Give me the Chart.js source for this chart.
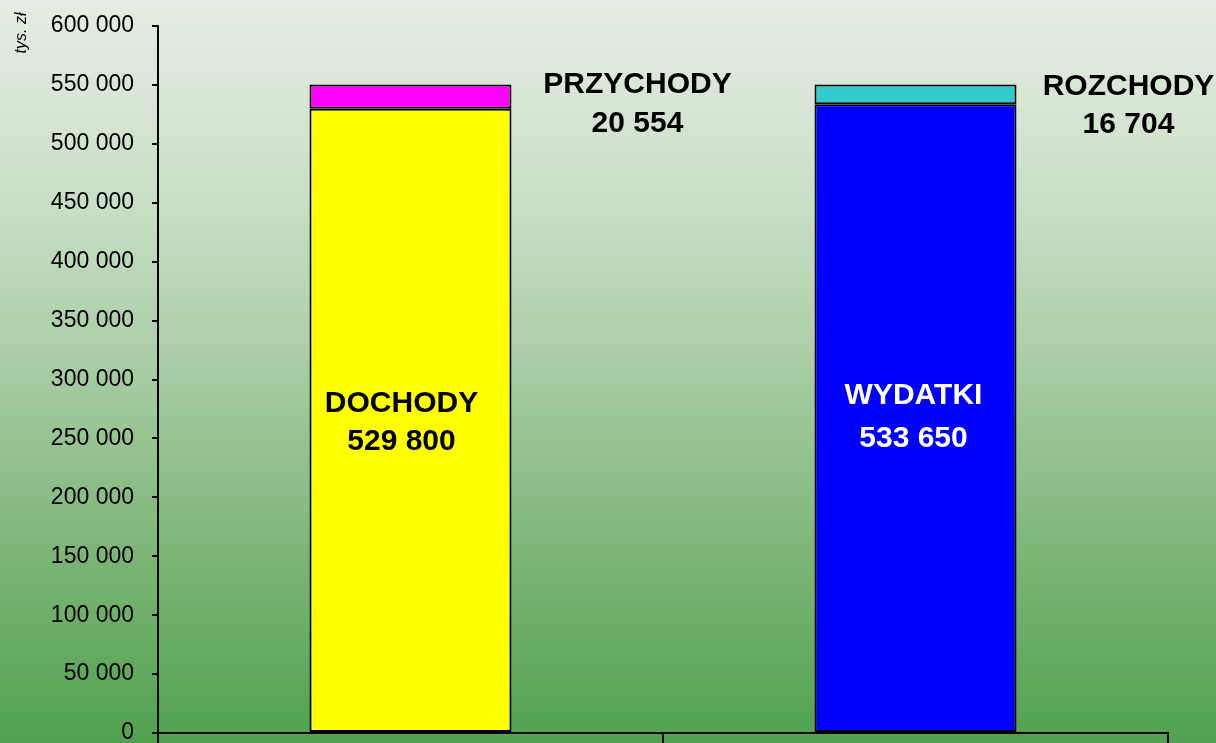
<!DOCTYPE html>
<html lang="pl">
<head>
  <meta charset="UTF-8">
  <title>Dochody i wydatki</title>
  <script src="https://cdn.jsdelivr.net/npm/chart.js"></script>
  <style>
    html, body { margin: 0; padding: 0; }
    #wrap { width: 1216px; height: 743px; }
  </style>
</head>
<body>
  <div id="wrap"><canvas id="budzet"></canvas></div>

  <script>
    const kategorie = ['Dochody i przychody', 'Wydatki i rozchody'];
    const podstawa = [529800, 533650];
    const dodatek = [20554, 16704];
    const nazwyPodstawa = ['DOCHODY', 'WYDATKI'];
    const nazwyDodatek = ['PRZYCHODY', 'ROZCHODY'];
    const kolorPodstawa = ['#ffff00', '#0000ff'];
    const kolorDodatek = ['#ff00ff', '#33cccc'];
    const kolorTekstuPodstawa = ['#000000', '#ffffff'];

    function fmt(v) {
      return String(v).replace(/\B(?=(\d{3})+(?!\d))/g, ' ');
    }

    const tlo = {
      id: 'tlo',
      beforeDraw(chart) {
        const c = chart.ctx;
        const g = c.createLinearGradient(0, 0, 0, chart.height);
        g.addColorStop(0, '#e6ede4');
        g.addColorStop(0.28, '#c8dec5');
        g.addColorStop(0.53, '#a2c99e');
        g.addColorStop(0.77, '#78b372');
        g.addColorStop(1, '#50a250');
        c.save();
        c.fillStyle = g;
        c.fillRect(0, 0, chart.width, chart.height);
        c.restore();
      }
    };

    // przesunięcia napisów względem słupków (px)
    const przesWew = [[-9, -17, 21], [-2, -23, 20]];
    const przesZew = [[227, 0, 39], [213, 2, 40]];

    const etykiety = {
      id: 'etykiety',
      afterDraw(chart) {
        const c = chart.ctx;
        const y = chart.scales.y;
        c.save();
        c.font = 'bold 30px "Liberation Sans", Arial, sans-serif';
        c.textAlign = 'center';
        c.textBaseline = 'middle';
        chart.getDatasetMeta(0).data.forEach((bar, i) => {
          const srodek = (y.getPixelForValue(0) + y.getPixelForValue(podstawa[i])) / 2;
          const [dx, d1, d2] = przesWew[i];
          c.fillStyle = kolorTekstuPodstawa[i];
          c.fillText(nazwyPodstawa[i], bar.x + dx, srodek + d1);
          c.fillText(fmt(podstawa[i]), bar.x + dx, srodek + d2);
          const gora = y.getPixelForValue(podstawa[i] + dodatek[i]);
          const [ex, e1, e2] = przesZew[i];
          c.fillStyle = '#000000';
          c.fillText(nazwyDodatek[i], bar.x + ex, gora + e1);
          c.fillText(fmt(dodatek[i]), bar.x + ex, gora + e2);
        });
        c.translate(22, 33);
        c.rotate(-Math.PI / 2);
        c.font = 'italic 16px "Liberation Sans", Arial, sans-serif';
        c.fillStyle = '#000000';
        c.fillText('tys. zł', 0, 0);
        c.restore();
      }
    };

    new Chart(document.getElementById('budzet'), {
      type: 'bar',
      data: {
        labels: kategorie,
        datasets: [
          {
            data: podstawa,
            backgroundColor: kolorPodstawa,
            borderColor: '#000000',
            borderWidth: 2,
            borderSkipped: false,
            barPercentage: 0.4,
            categoryPercentage: 1
          },
          {
            data: dodatek,
            backgroundColor: kolorDodatek,
            borderColor: '#000000',
            borderWidth: 2,
            borderSkipped: false,
            barPercentage: 0.4,
            categoryPercentage: 1
          }
        ]
      },
      options: {
        responsive: true,
        maintainAspectRatio: false,
        animation: false,
        layout: { autoPadding: false, padding: { top: 26, right: 48, left: 0, bottom: 0 } },
        plugins: {
          legend: { display: false },
          tooltip: { enabled: false }
        },
        scales: {
          x: {
            stacked: true,
            ticks: { display: false },
            grid: { drawOnChartArea: false, color: '#000000', tickLength: 10, lineWidth: 2 },
            border: { color: '#000000', width: 2 },
            afterFit(s) { s.height = 10; }
          },
          y: {
            stacked: true,
            min: 0,
            max: 600000,
            ticks: {
              stepSize: 50000,
              padding: 18,
              color: '#000000',
              font: { family: '"Liberation Sans", Arial, sans-serif', size: 23 },
              callback: v => fmt(v)
            },
            grid: { drawOnChartArea: false, color: '#000000', tickLength: 6, lineWidth: 2 },
            border: { color: '#000000', width: 2 },
            afterFit(s) {
              s.width = 158;
              s.paddingTop = 0;
              s.paddingBottom = 0;
            }
          }
        }
      },
      plugins: [tlo, etykiety]
    });
  </script>
</body>
</html>
